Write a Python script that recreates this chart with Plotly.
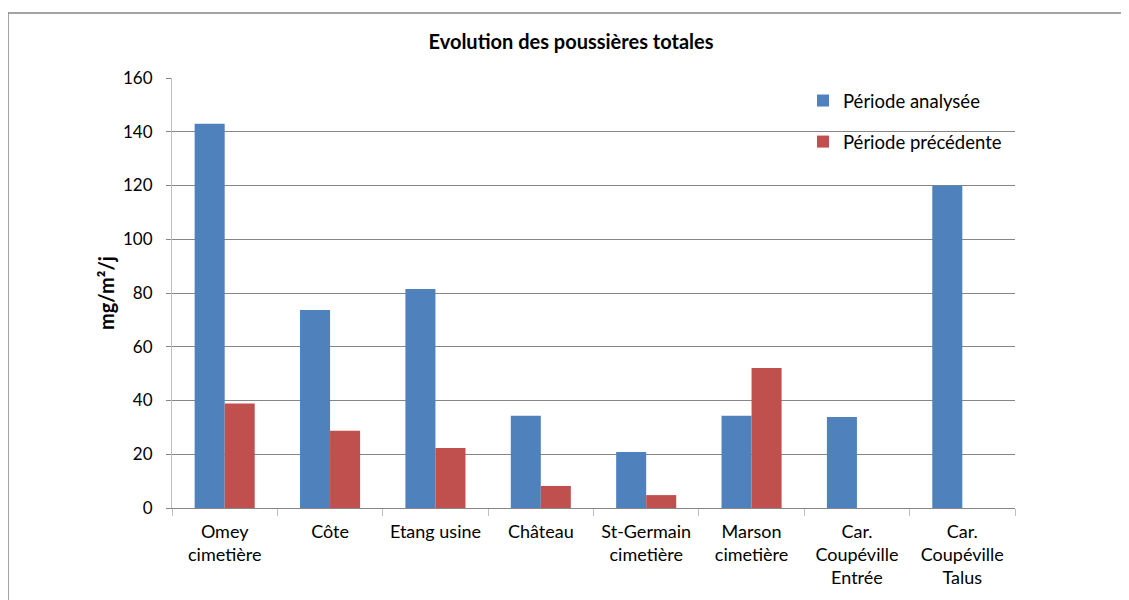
import plotly.graph_objects as go

categories = ["Omey<br>cimetière", "Côte", "Etang usine", "Château", "St-Germain<br>cimetière",
              "Marson<br>cimetière", "Car.<br>Coupéville<br>Entrée", "Car.<br>Coupéville<br>Talus"]
periode_analysee = [143, 73.7, 81.5, 34.3, 20.8, 34.3, 33.9, 120]
periode_precedente = [38.9, 28.7, 22.3, 8.2, 4.8, 52.1, None, None]
y_ticks = [0, 20, 40, 60, 80, 100, 120, 140, 160]

FONT = "Lato"
OFF = 8  # page body margin

fig = go.Figure()
fig.add_trace(go.Bar(x=categories, y=periode_analysee, name="Période analysée",
                     marker=dict(color="#4F81BD", line=dict(width=0)), legendgroup="a"))
fig.add_trace(go.Bar(x=categories, y=periode_precedente, name="Période précédente",
                     marker=dict(color="#C0504D", line=dict(width=0)), legendgroup="b"))

W, H = 1129 - OFF, 600 - OFF
# plot area in screen coords: x 172..1015, y 78..508
L, T = 172 - OFF, 78 - OFF
R = W - (1015 - OFF)
B = H - (508 - OFF)
pw, ph = W - L - R, H - T - B

def px(x):
    return (x - 172) / pw

def py(y):
    return (508 - y) / ph

fig.update_layout(
    width=W, height=H,
    margin=dict(l=L, r=R, t=T, b=B),
    paper_bgcolor="white", plot_bgcolor="white",
    barmode="group", bargap=0.43, bargroupgap=0,
    font=dict(family=FONT, size=16, color="#000000"),
    title=dict(text="<b>Evolution des poussières totales</b>", x=px(571), xref="paper",
               xanchor="center", y=1 - (42 - OFF) / H, yanchor="middle",
               font=dict(family=FONT, size=20, color="#000000")),
    legend=dict(x=px(803), y=py(82), xanchor="left", yanchor="top",
                font=dict(family=FONT, size=18.5), tracegroupgap=14,
                bgcolor="rgba(0,0,0,0)", itemwidth=30),
    showlegend=True,
    xaxis=dict(showline=True, linecolor="#868686", linewidth=1,
               ticks="outside", tickson="boundaries", ticklen=7, tickcolor="#BFBFBF",
               showgrid=False, tickfont=dict(family=FONT, size=18), ticklabelstandoff=7),
    yaxis=dict(range=[0, 160], tickvals=y_ticks, showline=True, linecolor="#BFBFBF",
               showgrid=True, gridcolor="#868686", gridwidth=1,
               ticks="outside", ticklen=5, tickcolor="#868686",
               tickfont=dict(family=FONT, size=17), zeroline=False, ticklabelstandoff=10,
               title=dict(text="<b>mg/m²/j</b>", font=dict(family=FONT, size=20), standoff=3)),
    shapes=[dict(type="rect", xref="paper", yref="paper",
                 x0=px(8), x1=px(1145), y0=py(615), y1=py(13),
                 line=dict(color="#868686", width=1.5), fillcolor="rgba(0,0,0,0)", layer="below")],
)

fig.write_html("out.html")
